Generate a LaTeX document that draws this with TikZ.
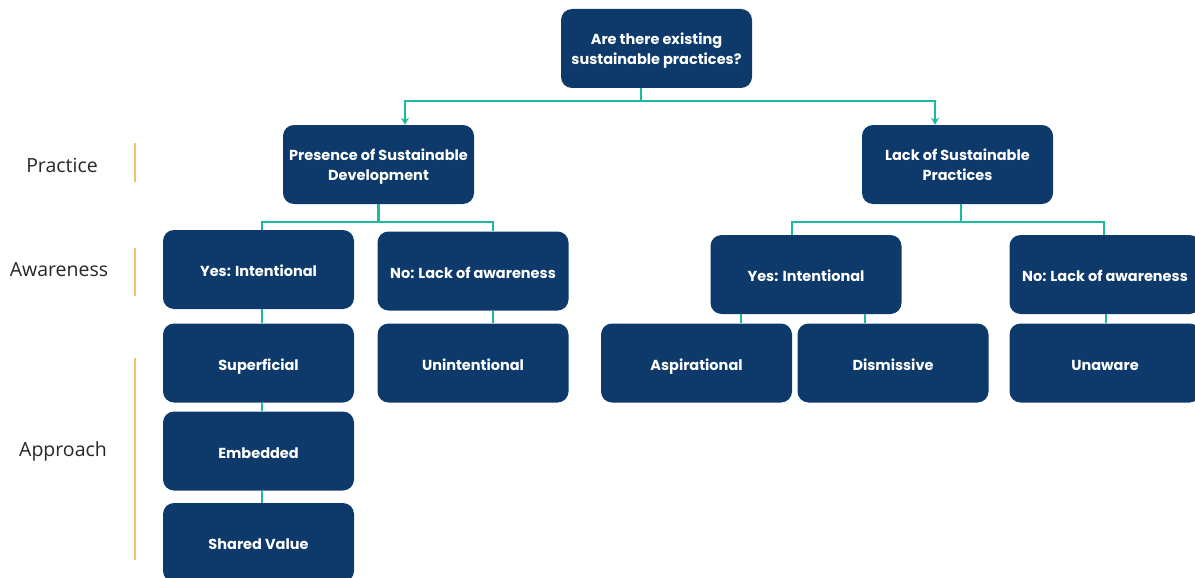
\documentclass[tikz,border=0pt]{standalone}
\usepackage{fontspec}
\setmainfont{Poppins}
\newfontfamily\labelfont{Open Sans}
\usetikzlibrary{arrows.meta}
\definecolor{boxblue}{HTML}{0D3A6B}
\definecolor{linkteal}{HTML}{1DB8A0}
\definecolor{bargold}{HTML}{EFC46B}
\begin{document}
\begin{tikzpicture}[x=1pt,y=-1pt,
  box/.style={draw=none,fill=boxblue,rounded corners=11pt,text=white,
    minimum width=191pt,minimum height=79pt,align=center,
    font=\fontsize{14.5}{20}\selectfont\bfseries,inner sep=2pt,
    text depth=0pt},
  onebox/.style={box,text height=14pt},
  conn/.style={draw=linkteal,line width=2.2pt},
  arr/.style={conn,-{Stealth[length=7pt,width=8pt]}},
  tier/.style={font=\labelfont\fontsize{19.5}{23}\selectfont,text=black!85},
  bar/.style={draw=bargold,line width=2.5pt}]
\useasboundingbox (0,0) rectangle (1195,578);

% question at the root
\node[box] (top) at (656.5,48.5) {Are there existing\\sustainable practices?};

% practice level
\node[box] (pres) at (378.5,164.5) {Presence of Sustainable\\Development};
\node[box] (lack) at (957.5,164.5) {Lack of Sustainable\\Practices};

% awareness level
\node[onebox] (yesL) at (258.5,269.5) {Yes: Intentional};
\node[onebox] (noL)  at (473,271) {No: Lack of awareness};
\node[onebox] (yesR) at (806,274.5) {Yes: Intentional};
\node[onebox] (noR)  at (1105,274.5) {No: Lack of awareness};

% approach level
\node[onebox] (sup)  at (258.5,363) {Superficial};
\node[onebox] (unin) at (473,363) {Unintentional};
\node[onebox] (asp)  at (696.5,363) {Aspirational};
\node[onebox] (dis)  at (893,363) {Dismissive};
\node[onebox] (unaw) at (1105,363) {Unaware};
\node[onebox] (emb)  at (258.5,451) {Embedded};
\node[onebox] (shv)  at (258.5,542.5) {Shared Value};

% root split
\draw[arr] ([xshift=-15.5pt]top.south) -- ++(0,13) -| ([xshift=26.5pt]pres.north);
\draw[arr] ([xshift=-15.5pt]top.south) -- ++(0,13) -| ([xshift=-22.5pt]lack.north);

% presence branch
\draw[conn] (pres.south) -- ++(0,18) -| ([xshift=3.5pt]yesL.north);
\draw[conn] (pres.south) -- ++(0,18) -| ([xshift=20pt]noL.north);
\draw[conn] ([xshift=3.5pt]yesL.south) -- ([xshift=3.5pt]sup.north);
\draw[conn] ([xshift=20pt]noL.south) -- ([xshift=20pt]unin.north);
\draw[conn] ([xshift=3.5pt]sup.south) -- ([xshift=3.5pt]emb.north);
\draw[conn] ([xshift=3.5pt]emb.south) -- ([xshift=3.5pt]shv.north);

% lack branch
\draw[conn] ([xshift=3.5pt]lack.south) -- ++(0,18) -| ([xshift=-14pt]yesR.north);
\draw[conn] ([xshift=3.5pt]lack.south) -- ++(0,18) -| ([xshift=-1pt]noR.north);
\draw[conn] ([xshift=-65pt]yesR.south) -- ([xshift=44.5pt]asp.north);
\draw[conn] ([xshift=59pt]yesR.south) -- ([xshift=-28pt]dis.north);
\draw[conn] ([xshift=1pt]noR.south) -- ([xshift=1pt]unaw.north);

% tier labels with their markers
\node[tier] (tPrac) at (62,165) {Practice};
\node[tier] (tAwar) at (59,270) {Awareness};
\node[tier] (tAppr) at (63,451) {Approach};
\coordinate (b1a) at (135,143); \coordinate (b1b) at (135,182);
\coordinate (b2a) at (135,248); \coordinate (b2b) at (135,296);
\coordinate (b3a) at (135,358); \coordinate (b3b) at (135,560);
\draw[bar] (b1a) -- (b1b);
\draw[bar] (b2a) -- (b2b);
\draw[bar] (b3a) -- (b3b);
\end{tikzpicture}
\end{document}
